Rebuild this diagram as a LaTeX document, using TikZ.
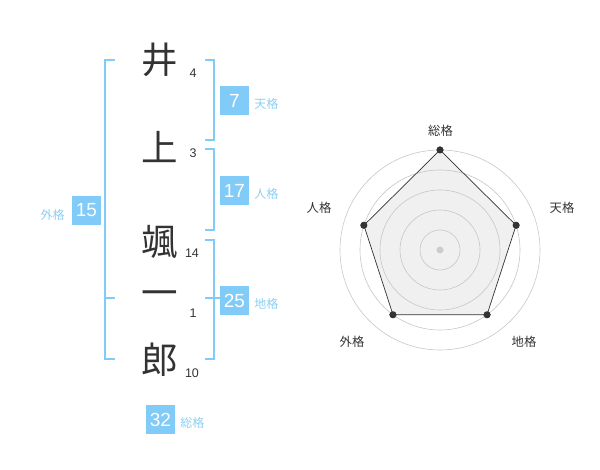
\documentclass[tikz,border=0pt]{standalone}
\usepackage{fontspec}
\setmainfont{Liberation Sans}
\newfontfamily\jfont{Noto Sans CJK JP}
\usetikzlibrary{positioning}
\definecolor{kakublue}{HTML}{80CBF7}
\definecolor{labelblue}{HTML}{8CCFF4}
\definecolor{ink}{HTML}{333333}
\tikzset{
  kanji/.style={font=\jfont\fontsize{36.5}{36}\selectfont, text=ink, inner sep=0pt},
  strokes/.style={font=\fontsize{12.5}{14}\selectfont, text=ink, inner sep=0pt},
  kakubox/.style={fill=kakublue, text=white, minimum size=29pt, inner sep=0pt, font=\fontsize{19}{20}\selectfont},
  kakulabel/.style={font=\jfont\fontsize{12}{12}\selectfont, text=labelblue, inner sep=0pt},
  bracket/.style={draw=kakublue, line width=1.6pt},
  ring/.style={draw=black!22, line width=0.6pt},
  radarlabel/.style={font=\jfont\fontsize{12.3}{12}\selectfont, text=ink, inner sep=0pt},
  dot/.style={circle, fill=ink, inner sep=0pt, minimum size=7pt},
}
\begin{document}
\begin{tikzpicture}[x=1pt,y=-1pt]
\useasboundingbox (0,0) rectangle (600,470);
% name
\node[kanji] (kI) at (160,60) {井};
\node[kanji] (kUe) at (160,147) {上};
\node[kanji] (kSatsu) at (160,242) {颯};
\node[kanji] (kIchi) at (160,299) {一};
\node[kanji] (kRou) at (160,360) {郎};
\node[strokes] (sI) at (193,73) {4};
\node[strokes] (sUe) at (193,153) {3};
\node[strokes] (sSatsu) at (192,253) {14};
\node[strokes] (sIchi) at (193,313) {1};
\node[strokes] (sRou) at (192,373) {10};
% brackets
\draw[bracket] (115,60) -- (105,60) -- (105,359) -- (115,359);
\draw[bracket] (105,298) -- (115,298);
\draw[bracket] (205,60) -- (214,60) -- (214,140) -- (205,140);
\draw[bracket] (205,149) -- (214,149) -- (214,230) -- (205,230);
\draw[bracket] (205,240) -- (214,240) -- (214,359) -- (205,359);
\draw[bracket] (205,298) -- (220,298);
% boxes
\node[kakubox] (ten) at (234.5,100.5) {7};
\node[kakubox] (jin) at (234.5,190.5) {17};
\node[kakubox] (gai) at (86.5,210.5) {15};
\node[kakubox] (chi) at (234.5,300.5) {25};
\node[kakubox] (sou) at (160.5,419.5) {32};
\node[kakulabel, right=5pt of ten, yshift=-3.5pt] (tenL) {天格};
\node[kakulabel, right=5pt of jin, yshift=-3.5pt] (jinL) {人格};
\node[kakulabel, left=7pt of gai, yshift=-4pt] (gaiL) {外格};
\node[kakulabel, right=5pt of chi, yshift=-3.5pt] (chiL) {地格};
\node[kakulabel, right=5pt of sou, yshift=-3.5pt] (souL) {総格};
% radar
\begin{scope}[shift={(440,250)}]
\coordinate (C) at (0,0);
\node[dot] (pSou) at (-90:100) {};
\node[dot] (pTen) at (-18:80) {};
\node[dot] (pChi) at (54:80) {};
\node[dot] (pGai) at (126:80) {};
\node[dot] (pJin) at (198:80) {};
\fill[black!6] (pSou.center) -- (pTen.center) -- (pChi.center) -- (pGai.center) -- (pJin.center) -- cycle;
\foreach \r in {20,40,...,100}
  \draw[ring] (C) circle[radius=\r];
\draw[ink, line width=0.7pt] (pSou.center) -- (pTen.center) -- (pChi.center) -- (pGai.center) -- (pJin.center) -- cycle;
\foreach \p in {pSou,pTen,pChi,pGai,pJin}
  \fill[ink] (\p) circle[radius=3.5];
\fill[black!20] (C) circle[radius=3.5];
\end{scope}
\node[radarlabel] (lSou) at (440.5,131) {総格};
\node[radarlabel] (lTen) at (562,208) {天格};
\node[radarlabel] (lChi) at (524,342) {地格};
\node[radarlabel] (lGai) at (352,342) {外格};
\node[radarlabel] (lJin) at (319,208) {人格};
\end{tikzpicture}
\end{document}
